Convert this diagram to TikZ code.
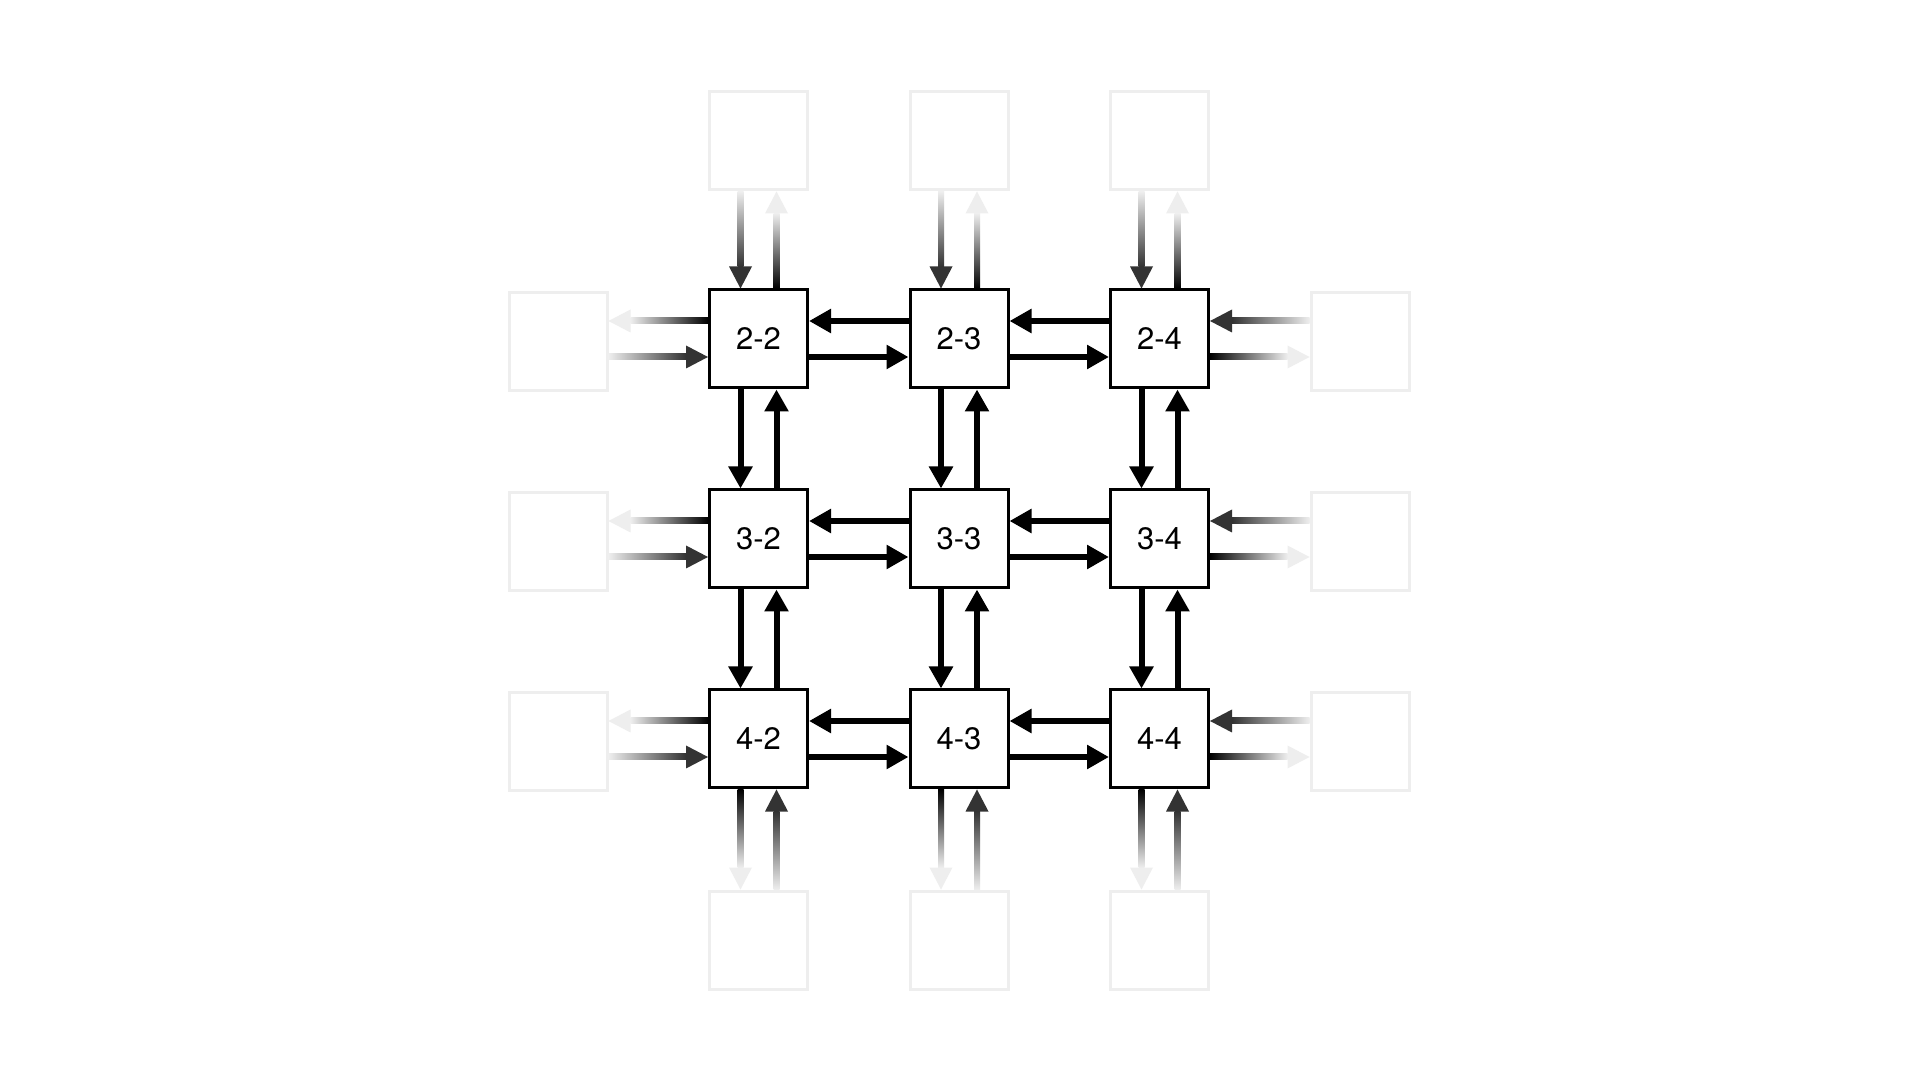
\documentclass[tikz,border=0pt]{standalone}
\usepackage{fontspec}
\setmainfont{TeX Gyre Heros}
\usetikzlibrary{arrows.meta,calc}
\definecolor{ghostc}{HTML}{EEEEEE}
\definecolor{incc}{HTML}{333333}
\begin{document}
\begin{tikzpicture}[x=1pt,y=1pt,
  cell/.style={draw=black, line width=3pt, fill=white, minimum size=98pt, inner sep=0pt, font=\fontsize{31}{36}\selectfont},
  ghost/.style={draw=ghostc, line width=3pt, fill=white, minimum size=98pt, inner sep=0pt},
  link/.style={line width=6pt, -{Triangle[length=22pt,width=23pt]}}]
\fill[white] (0,0) rectangle (1920,1080);
\useasboundingbox (0,0) rectangle (1920,1080);

% main cells
\foreach \r/\y in {2/741,3/541,4/341}
  \foreach \c/\x in {2/758.5,3/959,4/1159.5}
    \node[cell] (n\r\c) at (\x,\y) {\r-\c};

% ghost cells
\foreach \c/\x in {2/758.5,3/959,4/1159.5} {
  \node[ghost] (g1\c) at (\x,939) {};
  \node[ghost] (g5\c) at (\x,140) {};
}
\foreach \r/\y in {2/738,3/538,4/338} {
  \node[ghost] (g\r1) at (558,\y) {};
  \node[ghost] (g\r5) at (1360,\y) {};
}

% main vertical links
\foreach \c in {2,3,4}
  \foreach \r/\s in {2/3,3/4} {
    \draw[link] ([xshift=-18pt]n\r\c.south) -- ([xshift=-18pt]n\s\c.north);
    \draw[link] ([xshift=18pt]n\s\c.north) -- ([xshift=18pt]n\r\c.south);
  }
% main horizontal links
\foreach \r in {2,3,4}
  \foreach \c/\d in {2/3,3/4} {
    \draw[link] ([yshift=18pt]n\r\d.west) -- ([yshift=18pt]n\r\c.east);
    \draw[link] ([yshift=-18pt]n\r\c.east) -- ([yshift=-18pt]n\r\d.west);
  }

% top ghost links
\foreach \c in {2,3,4} {
  \shade[top color=ghostc, bottom color=incc] ($(g1\c.south)+(-21,0)$) rectangle ($(n2\c.north)+(-15,22)$);
  \fill[incc] ($(n2\c.north)+(-18,0)$) -- ++(-11.5,22) -- ++(23,0) -- cycle;
  \shade[top color=ghostc, bottom color=black] ($(n2\c.north)+(15,0)$) rectangle ($(g1\c.south)+(21,-22)$);
  \fill[ghostc] ($(g1\c.south)+(18,0)$) -- ++(-11.5,-22) -- ++(23,0) -- cycle;
}
% bottom ghost links
\foreach \c in {2,3,4} {
  \shade[top color=black, bottom color=ghostc] ($(n4\c.south)+(-21,0)$) rectangle ($(g5\c.north)+(-15,22)$);
  \fill[ghostc] ($(g5\c.north)+(-18,0)$) -- ++(-11.5,22) -- ++(23,0) -- cycle;
  \shade[top color=incc, bottom color=ghostc] ($(g5\c.north)+(15,0)$) rectangle ($(n4\c.south)+(21,-22)$);
  \fill[incc] ($(n4\c.south)+(18,0)$) -- ++(-11.5,-22) -- ++(23,0) -- cycle;
}
% left ghost links
\foreach \r in {2,3,4} {
  \shade[left color=ghostc, right color=black] ($(g\r1.east |- n\r2.west)+(22,15)$) rectangle ($(n\r2.west)+(0,21)$);
  \fill[ghostc] ($(g\r1.east |- n\r2.west)+(0,18)$) -- ++(22,11.5) -- ++(0,-23) -- cycle;
  \shade[left color=ghostc, right color=incc] ($(g\r1.east |- n\r2.west)+(0,-21)$) rectangle ($(n\r2.west)+(-22,-15)$);
  \fill[incc] ($(n\r2.west)+(0,-18)$) -- ++(-22,11.5) -- ++(0,-23) -- cycle;
}
% right ghost links
\foreach \r in {2,3,4} {
  \shade[left color=incc, right color=ghostc] ($(n\r4.east)+(22,15)$) rectangle ($(g\r5.west |- n\r4.east)+(0,21)$);
  \fill[incc] ($(n\r4.east)+(0,18)$) -- ++(22,11.5) -- ++(0,-23) -- cycle;
  \shade[left color=black, right color=ghostc] ($(n\r4.east)+(0,-21)$) rectangle ($(g\r5.west |- n\r4.east)+(-22,-15)$);
  \fill[ghostc] ($(g\r5.west |- n\r4.east)+(0,-18)$) -- ++(-22,11.5) -- ++(0,-23) -- cycle;
}
\end{tikzpicture}
\end{document}
